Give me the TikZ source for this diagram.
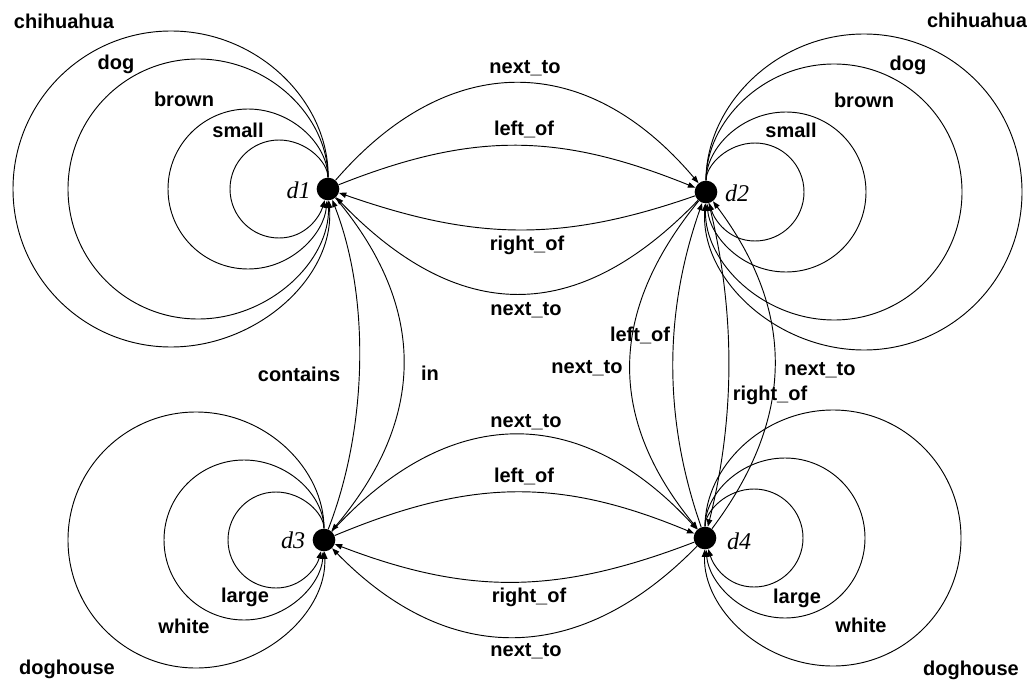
\documentclass[tikz,border=0pt]{standalone}
\usepackage{fontspec}
\setmainfont{Liberation Serif}
\setsansfont{Liberation Sans}
\usetikzlibrary{arrows.meta}
\tikzset{
  dot/.style={circle, fill=black, inner sep=0pt, minimum size=17pt},
  lbl/.style={font=\sffamily\bfseries\fontsize{15}{18}\selectfont, inner sep=0pt},
  dlbl/.style={font=\itshape\fontsize{18}{20}\selectfont, inner sep=0pt},
  edge/.style={line width=0.7pt, -{Triangle[length=5.5pt,width=4pt]}},
}
\begin{document}
\begin{tikzpicture}[x=0.75pt,y=0.75pt]
\useasboundingbox (0,0) rectangle (1034,683);
% nodes
\node[dot] (d1) at (328,494) {};
\node[dot] (d2) at (706,491) {};
\node[dot] (d3) at (324,143) {};
\node[dot] (d4) at (705,145) {};
\node[dlbl] (t1) at (298.5,493) {d1};
\node[dlbl] (t2) at (737,489.5) {d2};
\node[dlbl] (t3) at (293,142.5) {d3};
\node[dlbl] (t4) at (739,141.5) {d4};
% loops d1
\draw[edge] (d1) .. controls (328,521.1) and (306.1,543) .. (279,543)
  .. controls (251.9,543) and (230,521.1) .. (230,494)
  .. controls (230,466.9) and (251.9,445) .. (279,445)
  .. controls (306.1,445) and (320,466.9) .. (d1);
\draw[edge] (d1) .. controls (328,538.2) and (292.2,574) .. (248,574)
  .. controls (203.8,574) and (168,538.2) .. (168,494)
  .. controls (168,449.8) and (203.8,414) .. (248,414)
  .. controls (292.2,414) and (324,449.8) .. (d1);
\draw[edge] (d1) .. controls (328,565.8) and (269.8,624) .. (198,624)
  .. controls (126.2,624) and (68,565.8) .. (68,494)
  .. controls (68,422.2) and (126.2,364) .. (198,364)
  .. controls (269.8,364) and (330,422.2) .. (d1);
\draw[edge] (d1) .. controls (329,581.3) and (258.3,652) .. (171,652)
  .. controls (83.7,652) and (13,581.3) .. (13,494)
  .. controls (13,406.7) and (83.7,336) .. (171,336)
  .. controls (258.3,336) and (335,406.7) .. (d1);
% loops d2
\draw[edge] (d2) .. controls (706,518.1) and (727.9,540) .. (755,540)
  .. controls (782.1,540) and (804,518.1) .. (804,491)
  .. controls (804,463.9) and (782.1,442) .. (755,442)
  .. controls (727.9,442) and (714,463.9) .. (d2);
\draw[edge] (d2) .. controls (706,535.2) and (741.8,571) .. (786,571)
  .. controls (830.2,571) and (866,535.2) .. (866,491)
  .. controls (866,446.8) and (830.2,411) .. (786,411)
  .. controls (741.8,411) and (710,446.8) .. (d2);
\draw[edge] (d2) .. controls (706,561.7) and (763.3,619) .. (834,619)
  .. controls (904.7,619) and (962,561.7) .. (962,491)
  .. controls (962,420.3) and (904.7,363) .. (834,363)
  .. controls (763.3,363) and (704,420.3) .. (d2);
\draw[edge] (d2) .. controls (706,578.3) and (776.7,649) .. (864,649)
  .. controls (951.3,649) and (1022,578.3) .. (1022,491)
  .. controls (1022,403.7) and (951.3,333) .. (864,333)
  .. controls (776.7,333) and (700,403.7) .. (d2);
% loops d3
\draw[edge] (d3) .. controls (324,169.5) and (302.5,191) .. (276,191)
  .. controls (249.5,191) and (228,169.5) .. (228,143)
  .. controls (228,116.5) and (249.5,95) .. (276,95)
  .. controls (302.5,95) and (317,116.5) .. (d3);
\draw[edge] (d3) .. controls (324,187.2) and (288.2,223) .. (244,223)
  .. controls (199.8,223) and (164,187.2) .. (164,143)
  .. controls (164,98.8) and (199.8,63) .. (244,63)
  .. controls (288.2,63) and (321,98.8) .. (d3);
\draw[edge] (d3) .. controls (324,213.7) and (266.7,271) .. (196,271)
  .. controls (125.3,271) and (68,213.7) .. (68,143)
  .. controls (68,72.3) and (125.3,15) .. (196,15)
  .. controls (266.7,15) and (327,72.3) .. (d3);
% loops d4
\draw[edge] (d4) .. controls (705,172.1) and (726.9,194) .. (754,194)
  .. controls (781.1,194) and (803,172.1) .. (803,145)
  .. controls (803,117.9) and (781.1,96) .. (754,96)
  .. controls (726.9,96) and (713,117.9) .. (d4);
\draw[edge] (d4) .. controls (705,189.2) and (740.8,225) .. (785,225)
  .. controls (829.2,225) and (865,189.2) .. (865,145)
  .. controls (865,100.8) and (829.2,65) .. (785,65)
  .. controls (740.8,65) and (709,100.8) .. (d4);
\draw[edge] (d4) .. controls (705,215.7) and (762.3,273) .. (833,273)
  .. controls (903.7,273) and (961,215.7) .. (961,145)
  .. controls (961,74.3) and (903.7,17) .. (833,17)
  .. controls (762.3,17) and (703,74.3) .. (d4);
% loop labels
\node[lbl] (l1a) at (64,662) {chihuahua};
\node[lbl] (l1b) at (116,619) {dog};
\node[lbl] (l1c) at (184,584) {brown};
\node[lbl] (l1d) at (238,553) {small};
\node[lbl] (l2a) at (977,663) {chihuahua};
\node[lbl] (l2b) at (908,618) {dog};
\node[lbl] (l2c) at (864,583) {brown};
\node[lbl] (l2d) at (791,553) {small};
\node[lbl] (l3a) at (245,86) {large};
\node[lbl] (l3b) at (184,57) {white};
\node[lbl] (l3c) at (67,14) {doghouse};
\node[lbl] (l4a) at (797,85) {large};
\node[lbl] (l4b) at (861,58) {white};
\node[lbl] (l4c) at (971,13) {doghouse};
% d1 - d2
\draw[edge] (d1) .. controls (448,633) and (586,633) .. (d2);
\draw[edge] (d1) .. controls (474,552) and (560,550) .. (d2);
\draw[edge] (d2) .. controls (560,440) and (474,443) .. (d1);
\draw[edge] (d2) .. controls (576,356) and (458,359) .. (d1);
\node[lbl] (e1) at (525,615) {next\_to};
\node[lbl] (e2) at (524,554) {left\_of};
\node[lbl] (e3) at (527,438) {right\_of};
\node[lbl] (e4) at (526,373) {next\_to};
% d3 - d4
\draw[edge] (d3) .. controls (449,280) and (580,281) .. (d4);
\draw[edge] (d3) .. controls (470,204) and (559,206) .. (d4);
\draw[edge] (d4) .. controls (559,89) and (470,87) .. (d3);
\draw[edge] (d4) .. controls (580,17) and (449,15) .. (d3);
\node[lbl] (e5) at (526,261) {next\_to};
\node[lbl] (e6) at (524,207) {left\_of};
\node[lbl] (e7) at (529,86) {right\_of};
\node[lbl] (e8) at (526,32) {next\_to};
% d1 - d3
\draw[edge] (d3) .. controls (367,253) and (371,384) .. (d1);
\draw[edge] (d1) .. controls (429,374) and (425,263) .. (d3);
\node[lbl] (e9) at (299,309) {contains};
\node[lbl] (e10) at (430,310) {in};
% d2 - d4
\draw[edge] (d2) .. controls (608,371) and (607,265) .. (d4);
\draw[edge] (d4) .. controls (663,265) and (664,371) .. (d2);
\draw[edge] (d2) .. controls (736,371) and (735,265) .. (d4);
\draw[edge] (d4) .. controls (795,265) and (796,371) .. (d2);
\node[lbl] (e11) at (587,315) {next\_to};
\node[lbl] (e12) at (640,348) {left\_of};
\node[lbl] (e13) at (770,288) {right\_of};
\node[lbl] (e14) at (820,313) {next\_to};
\end{tikzpicture}
\end{document}
